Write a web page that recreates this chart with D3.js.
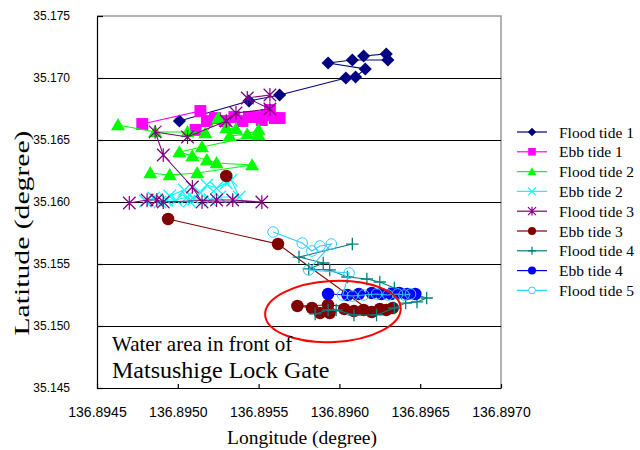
<!DOCTYPE html>
<html>
<head>
<meta charset="utf-8">
<script src="https://cdn.jsdelivr.net/npm/d3@7"></script>
<style>
  body { margin: 0; background: #fff; }
  svg { display: block; }
</style>
</head>
<body>
<svg id="chart"></svg>
<script>
// tick values
const lonTicks = [136.8945, 136.8950, 136.8955, 136.8960, 136.8965, 136.8970];
const latTicks = [35.145, 35.150, 35.155, 35.160, 35.165, 35.170, 35.175];
const gridLats = [35.150, 35.155, 35.160, 35.165, 35.170];

// tracks: [longitude, latitude]; null = gap in the track line
const floodTide1 = [[136.89501, 35.16653], [136.89544, 35.16815], [136.89563, 35.16863], [136.89604, 35.17000],
  [136.89610, 35.17008], [136.89616, 35.17073], [136.89593, 35.17121], [136.89608, 35.17145],
  [136.89630, 35.17145], [136.89629, 35.17194], [136.89615, 35.17177]];
const ebbTide1 = [[136.89478, 35.16629], [136.89514, 35.16734], [136.89518, 35.16653], [136.89511, 35.16581],
  [136.89523, 35.16677], [136.89529, 35.16653], [136.89535, 35.16685], [136.89540, 35.16653],
  [136.89544, 35.16685], [136.89549, 35.16685], [136.89552, 35.16661], [136.89555, 35.16702],
  [136.89557, 35.16742], [136.89560, 35.16677], [136.89563, 35.16677]];
const floodTide2 = [[136.89463, 35.16621], [136.89486, 35.16565], [136.89506, 35.16565], [136.89517, 35.16556],
  [136.89525, 35.16677], [136.89530, 35.16597], [136.89536, 35.16589], [136.89532, 35.16532],
  [136.89543, 35.16548], [136.89550, 35.16581], [136.89550, 35.16540], [136.89515, 35.16444],
  [136.89501, 35.16403], [136.89509, 35.16371], [136.89518, 35.16339], [136.89524, 35.16315],
  [136.89546, 35.16298], [136.89512, 35.16234], [136.89495, 35.16218], [136.89483, 35.16234]];
const ebbTide2 = [[136.89480, 35.16008], [136.89485, 35.16032], [136.89489, 35.16000], [136.89493, 35.16016],
  [136.89499, 35.16016], [136.89506, 35.16040], [136.89507, 35.16008], [136.89514, 35.16073],
  [136.89518, 35.16137], [136.89524, 35.16113], [136.89530, 35.16153], [136.89533, 35.16177],
  [136.89538, 35.16040], [136.89526, 35.16040], [136.89520, 35.16016], [136.89510, 35.16024],
  [136.89504, 35.16097], [136.89495, 35.16048]];
const floodTide3 = [[136.89557, 35.16863], [136.89543, 35.16839], [136.89557, 35.16750], [136.89536, 35.16718],
  [136.89530, 35.16653], [136.89506, 35.16524], [136.89486, 35.16565], [136.89491, 35.16379],
  [136.89509, 35.16121], [136.89515, 35.16000], [136.89552, 35.16000], [136.89534, 35.16016],
  [136.89524, 35.16016], [136.89491, 35.16000], [136.89487, 35.16016], [136.89481, 35.16016],
  [136.89470, 35.15992]];
const ebbTide3 = [[136.89530, 35.16210], null, [136.89494, 35.15863], [136.89562, 35.15661], [136.89620, 35.15113],
  [136.89615, 35.15129], [136.89609, 35.15121], [136.89603, 35.15137], [136.89594, 35.15105],
  [136.89588, 35.15105], [136.89583, 35.15145], [136.89574, 35.15161], [136.89593, 35.15169],
  [136.89625, 35.15137], [136.89629, 35.15129], [136.89633, 35.15145]];
const floodTide4 = [[136.89608, 35.15661], [136.89575, 35.15556], [136.89590, 35.15508], [136.89581, 35.15460],
  [136.89594, 35.15452], [136.89605, 35.15395], [136.89617, 35.15379], [136.89625, 35.15355],
  [136.89634, 35.15306], [136.89654, 35.15226], [136.89648, 35.15194], [136.89641, 35.15185],
  [136.89634, 35.15145], [136.89623, 35.15089], [136.89609, 35.15089], [136.89598, 35.15129],
  [136.89593, 35.15129], [136.89585, 35.15097]];
const ebbTide4 = [[136.89593, 35.15258], [136.89605, 35.15250], [136.89612, 35.15258], [136.89620, 35.15266],
  [136.89626, 35.15258], [136.89632, 35.15258], [136.89637, 35.15266], [136.89642, 35.15258],
  [136.89647, 35.15258]];
const floodTide5 = [[136.89559, 35.15758], [136.89577, 35.15669], [136.89583, 35.15605], [136.89588, 35.15645],
  [136.89595, 35.15661], [136.89581, 35.15452], [136.89606, 35.15427], [136.89602, 35.15250],
  [136.89608, 35.15242], [136.89615, 35.15250], [136.89623, 35.15258], [136.89630, 35.15250],
  [136.89636, 35.15258], [136.89640, 35.15250], [136.89644, 35.15258]];

const seriesNames = ["Flood tide 1", "Ebb tide 1", "Flood tide 2", "Ebb tide 2", "Flood tide 3",
  "Ebb tide 3", "Flood tide 4", "Ebb tide 4", "Flood tide 5"];
const seriesData = [floodTide1, ebbTide1, floodTide2, ebbTide2, floodTide3, ebbTide3, floodTide4, ebbTide4, floodTide5];
const seriesColors = ["#000080", "#ff00ff", "#00ff00", "#00ffff", "#800080", "#800000", "#008080", "#0000ff", "#33ccff"];
const seriesMarkers = ["diamond", "square", "triangle", "cross", "star", "dot", "plus", "dot", "ring"];

// red ellipse around the lock gate area (lon / lat extents)
const gateLon = [136.89554, 136.89638];
const gateLat = [35.14871, 35.15363];

const W = 640, H = 450;
const svg = d3.select("#chart").attr("width", W).attr("height", H);
svg.append("rect").attr("width", W).attr("height", H).attr("fill", "#fff");

const x = d3.scaleLinear().domain([136.8945, 136.8970]).range([97, 501]);
const y = d3.scaleLinear().domain([35.145, 35.175]).range([388, 16]);

// plot frame (top/right grey)
svg.append("path")
  .attr("d", `M${x(136.8945)},${y(35.175)}H${x(136.8970)}V${y(35.145)}`)
  .attr("fill", "none").attr("stroke", "#9a9a9a").attr("stroke-width", 1.5);

// gridlines
svg.append("g").selectAll("line").data(gridLats).join("line")
  .attr("x1", x(136.8945)).attr("x2", x(136.8970))
  .attr("y1", (d) => Math.round(y(d)) + 0.5).attr("y2", (d) => Math.round(y(d)) + 0.5)
  .attr("stroke", "#000").attr("stroke-width", 1);

// axes
const xAxis = svg.append("g")
  .attr("transform", `translate(0,${y(35.145)})`)
  .call(d3.axisBottom(x).tickValues(lonTicks).tickFormat(d3.format(".4f"))
    .tickSizeInner(-4).tickSizeOuter(0).tickPadding(19));
const yAxis = svg.append("g")
  .attr("transform", `translate(${x(136.8945)},0)`)
  .call(d3.axisLeft(y).tickValues(latTicks).tickFormat(d3.format(".3f"))
    .tickSizeInner(-6).tickSizeOuter(0).tickPadding(27));

[xAxis, yAxis].forEach((g) => {
  g.selectAll("path, line").attr("stroke", "#000").attr("stroke-width", 1.2);
  g.selectAll("text").attr("fill", "#000").attr("font-family", "Liberation Sans, Arial, sans-serif");
});
xAxis.selectAll("text").attr("font-size", 14);
yAxis.selectAll("text").attr("font-size", 12);

// marker drawing
function drawMarker(g, type, color, s) {
  const h = s / 2;
  if (type === "diamond") {
    g.append("path").attr("d", `M0,${-h * 1.05}L${h * 1.05},0L0,${h * 1.05}L${-h * 1.05},0Z`).attr("fill", color);
  } else if (type === "square") {
    g.append("rect").attr("x", -h * 0.95).attr("y", -h * 0.95).attr("width", s * 0.95).attr("height", s * 0.95).attr("fill", color);
  } else if (type === "triangle") {
    g.append("path").attr("d", `M0,${-h * 1.1}L${h * 1.12},${h * 0.85}L${-h * 1.12},${h * 0.85}Z`).attr("fill", color);
  } else if (type === "cross") {
    g.append("path").attr("d", `M${-h},${-h}L${h},${h}M${-h},${h}L${h},${-h}`).attr("stroke", color).attr("stroke-width", 1.2);
  } else if (type === "star") {
    g.append("path").attr("d", `M${-h},${-h}L${h},${h}M${-h},${h}L${h},${-h}M0,${-h * 1.1}V${h * 1.1}`)
      .attr("stroke", color).attr("stroke-width", 1.2);
  } else if (type === "plus") {
    g.append("path").attr("d", `M${-h},0H${h}M0,${-h}V${h}`).attr("stroke", color).attr("stroke-width", 1.3);
  } else if (type === "dot") {
    g.append("circle").attr("r", h).attr("fill", color);
  } else if (type === "ring") {
    g.append("circle").attr("r", h * 0.85).attr("fill", "none").attr("stroke", color).attr("stroke-width", 1);
  }
}

const line = d3.line().defined((d) => d !== null).x((d) => x(d[0])).y((d) => y(d[1]));

seriesData.forEach((data, i) => {
  const g = svg.append("g");
  g.append("path").datum(data).attr("d", line)
    .attr("fill", "none").attr("stroke", seriesColors[i]).attr("stroke-width", 1.1);
  g.selectAll("g").data(data.filter((d) => d !== null)).join("g")
    .attr("transform", (d) => `translate(${x(d[0])},${y(d[1])})`)
    .each(function () { drawMarker(d3.select(this), seriesMarkers[i], seriesColors[i], 12.5); });
});

// ellipse
const ecx = (x(gateLon[0]) + x(gateLon[1])) / 2;
const ecy = (y(gateLat[0]) + y(gateLat[1])) / 2;
svg.append("ellipse")
  .attr("cx", ecx).attr("cy", ecy)
  .attr("rx", (x(gateLon[1]) - x(gateLon[0])) / 2)
  .attr("ry", (y(gateLat[0]) - y(gateLat[1])) / 2)
  .attr("transform", `rotate(-3,${ecx},${ecy})`)
  .attr("fill", "none").attr("stroke", "#ff0000").attr("stroke-width", 2);

// annotation
const note = svg.append("g").attr("font-family", "Liberation Serif, Times New Roman, serif").attr("fill", "#000");
note.append("text").attr("x", 112).attr("y", 351).attr("font-size", 21).text("Water area in front of");
note.append("text").attr("x", 112).attr("y", 378).attr("font-size", 24).text("Matsushige Lock Gate");

// axis titles
svg.append("text").attr("x", 302).attr("y", 444).attr("text-anchor", "middle")
  .attr("font-family", "Liberation Serif, Times New Roman, serif").attr("font-size", 19.5)
  .text("Longitude (degree)");
svg.append("text").attr("transform", "translate(29,233) rotate(-90)").attr("text-anchor", "middle")
  .attr("font-family", "Liberation Serif, Times New Roman, serif").attr("font-size", 20)
  .attr("textLength", 205).attr("lengthAdjust", "spacingAndGlyphs")
  .text("Latitude (degree)");

// legend
const legend = svg.append("g");
seriesNames.forEach((name, i) => {
  const ly = 132 + i * 19.8;
  const item = legend.append("g").attr("transform", `translate(0,${ly})`);
  item.append("line").attr("x1", 517).attr("x2", 547).attr("stroke", seriesColors[i]).attr("stroke-width", 1.2);
  const m = item.append("g").attr("transform", "translate(532,0)");
  drawMarker(m, seriesMarkers[i], seriesColors[i], 8);
  if (seriesMarkers[i] === "ring") m.select("circle").attr("fill", "#fff");
  item.append("text").attr("x", 559).attr("y", 5.5)
    .attr("font-family", "Liberation Serif, Times New Roman, serif").attr("font-size", 15.5)
    .text(name);
});
</script>
</body>
</html>
